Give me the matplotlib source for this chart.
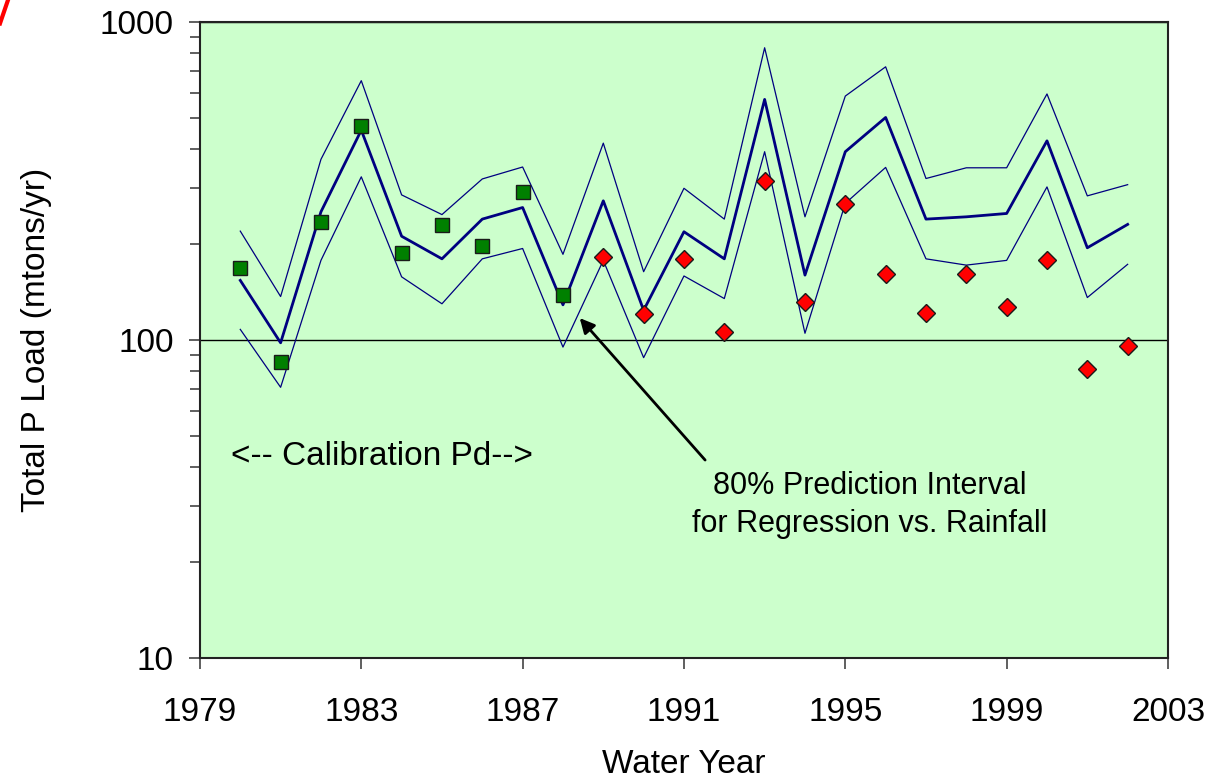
import matplotlib
matplotlib.use("Agg")
import matplotlib.pyplot as plt
from matplotlib.lines import Line2D
from matplotlib.ticker import FixedLocator, LogLocator, NullFormatter

plt.rcParams['font.family'] = ['Liberation Sans', 'DejaVu Sans']

# water years
years = list(range(1980, 2003))

# regression vs rainfall: predicted load and 80% prediction interval (mtons/yr)
predicted = [154, 98, 253, 457, 212, 180, 240, 261, 129, 274, 124, 219, 180,
             571, 160, 391, 501, 240, 244, 250, 423, 195, 231]
upper = [220, 137, 370, 654, 286, 248, 321, 350, 186, 416, 164, 300, 240,
         830, 244, 585, 723, 322, 348, 348, 594, 284, 308]
lower = [108, 71, 178, 326, 158, 130, 180, 194, 95, 178, 88, 159, 135,
         391, 105, 269, 349, 180, 172, 178, 303, 136, 173]

# observed loads
calib_years = list(range(1980, 1989))
calib_load = [168, 85.5, 235, 472, 188, 230, 197, 291, 139]
later_years = list(range(1989, 2003))
later_load = [183, 121, 180, 106, 317, 132, 268, 161, 122, 161, 127, 178, 81, 96]

x_ticks = [1979, 1983, 1987, 1991, 1995, 1999, 2003]

fig = plt.figure(figsize=(12.14, 7.81), dpi=100)
ax = fig.add_axes([0.1647, 0.1575, 0.7974, 0.8143])
ax.set_facecolor('#CCFFCC')

ax.plot(years, upper, color='#000080', lw=0.9)
ax.plot(years, lower, color='#000080', lw=0.9)
ax.plot(years, predicted, color='#000080', lw=2.0)

ax.plot(calib_years, calib_load, ls='none', marker='s', ms=10,
        mfc='#008000', mec='#1a1a1a', mew=1.0)
ax.plot(later_years, later_load, ls='none', marker='D', ms=9,
        mfc='#FF0000', mec='#1a1a1a', mew=1.0)

ax.set_yscale('log')
ax.set_ylim(10, 1000)
ax.set_xlim(1979, 2003)
ax.xaxis.set_major_locator(FixedLocator(x_ticks))
ax.yaxis.set_major_locator(FixedLocator([10, 100, 1000]))
ax.yaxis.set_minor_locator(LogLocator(base=10, subs=range(2, 10)))
ax.yaxis.set_minor_formatter(NullFormatter())
ax.set_yticklabels(['10', '100', '1000'])
ax.grid(axis='y', which='major', color='black', lw=1.0)

ax.tick_params(axis='both', which='major', direction='out', length=8,
               width=1.2, color='#444444', labelsize=24, pad=11)
ax.tick_params(axis='y', which='minor', direction='out', length=7,
               width=1.2, color='#444444')
ax.tick_params(axis='x', which='major', pad=20)
for s in ax.spines.values():
    s.set_color('#222222')
    s.set_linewidth(1.5)

ax.set_xlabel('Water Year', fontsize=24, labelpad=15)
ax.set_ylabel('Total P Load (mtons/yr)', fontsize=24, labelpad=34)

ax.text(1979.77, 42.9, '<-- Calibration Pd-->', fontsize=24,
        ha='left', va='center')
ax.text(1995.6, 30.3, '80% Prediction Interval\nfor Regression vs. Rainfall',
        fontsize=22, ha='center', va='center', linespacing=1.35)
ax.annotate('', xy=(1988.37, 119), xytext=(1991.57, 41.3),
            arrowprops=dict(arrowstyle='-|>', color='black', lw=2,
                            mutation_scale=22))

# red slash in the corner of the slide
fig.add_artist(Line2D([0.0, 0.0066], [0.970, 1.0], color='red', lw=3))

fig.savefig('out.png', dpi=100)
